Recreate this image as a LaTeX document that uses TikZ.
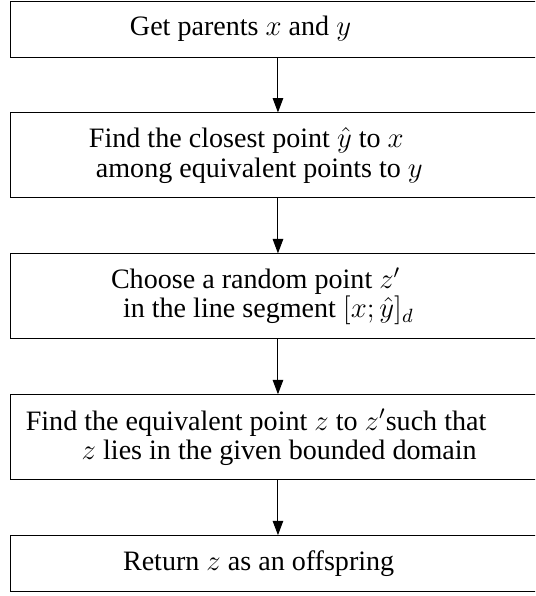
\documentclass[tikz,border=0pt]{standalone}
\usepackage{amsmath}
\usepackage{fontspec}
\setmainfont{Liberation Serif}
\usetikzlibrary{positioning,arrows.meta}

\tikzstyle{stage}=[
	rectangle,
	draw=black,
	minimum width=222.5pt,
	minimum height=35.4pt,
	inner sep=0pt
]
\tikzstyle{short stage}=[
	stage,
	minimum height=23.3pt
]
\tikzstyle{caption}=[
	anchor=west,
	align=left,
	inner sep=0pt,
	font=\fontsize{11.7}{12.2}\selectfont
]
\tikzstyle{flow}=[
	-{Triangle[length=6pt,width=4.4pt]},
	draw=black
]

\begin{document}
\begin{tikzpicture}[node distance=22.9pt]
\useasboundingbox (0,0) rectangle (222.9pt,-248.3pt);
\clip (0,0) rectangle (222.9pt,-248.3pt);

% boxes of the crossover
\node[short stage] (get) at (115.8pt,-12.1pt) {};
\node[stage, below=of get] (closest) {};
\node[stage, below=of closest] (random) {};
\node[stage, below=of random] (equiv) {};
\node[short stage, below=of equiv] (ret) {};

% texts
\node[caption] (tget) at ([xshift=49.6pt]get.west) {Get parents $x$ and $y$};
\node[caption] (tclosest) at ([xshift=32.5pt]closest.west)
	{Find the closest point $\hat{y}$ to $x$\\ \hspace*{2.9pt}among equivalent points to $y$};
\node[caption] (trandom) at ([xshift=41.7pt]random.west)
	{Choose a random point $z'$\\ \hspace*{5pt}in the line segment $[x;\hat{y}]_d$};
\node[caption] (tequiv) at ([xshift=6.2pt]equiv.west)
	{Find the equivalent point $z$ to $z'$such that\\ \hspace*{23.3pt}$z$ lies in the given bounded domain};
\node[caption] (tret) at ([xshift=46.7pt]ret.west) {Return $z$ as an offspring};

\draw[flow] (get) to (closest);
\draw[flow] (closest) to (random);
\draw[flow] (random) to (equiv);
\draw[flow] (equiv) to (ret);

\end{tikzpicture}
\end{document}
